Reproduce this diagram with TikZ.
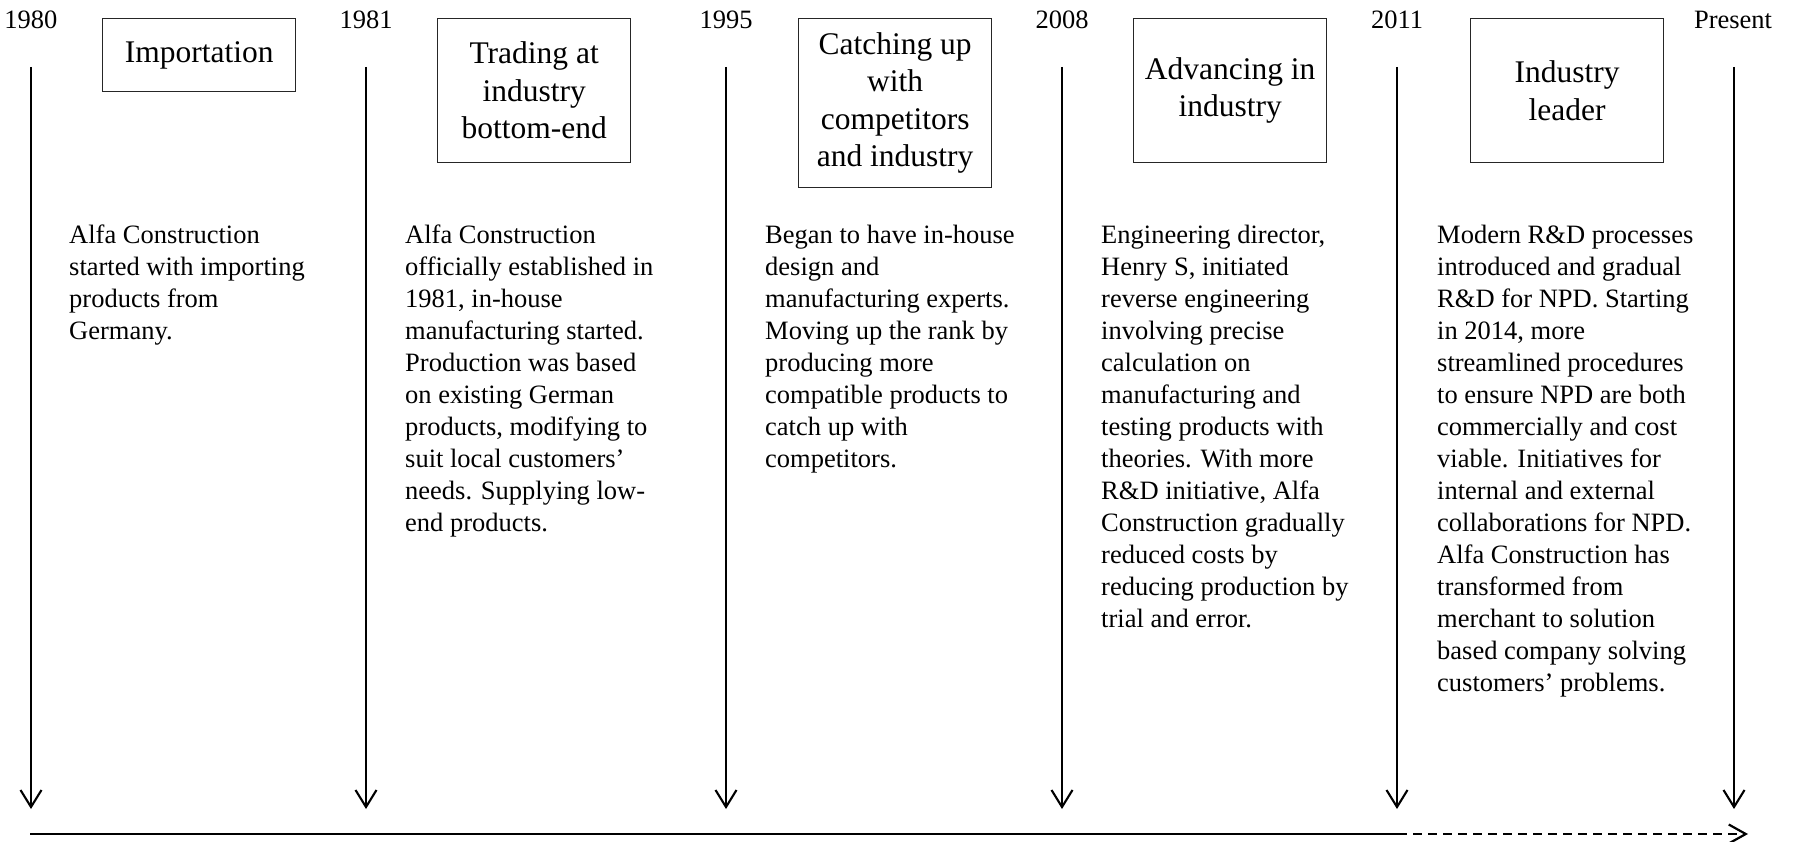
\documentclass[tikz,border=0pt]{standalone}
\usepackage{fontspec}
\setmainfont{Liberation Serif}
\usetikzlibrary{arrows.meta}

\tikzset{
  yearlbl/.style={anchor=base, inner sep=0pt, font=\fontsize{26.5}{32}\selectfont},
  stagebox/.style={draw=black!85, line width=1.3pt, anchor=north west, inner sep=0pt,
    minimum width=193pt, align=center, font=\fontsize{31.5}{37.5}\selectfont},
  bodytext/.style={anchor=north west, inner sep=0pt, align=left,
    font=\fontsize{26.5}{32}\selectfont},
  era/.style={line width=2.1pt, -{Straight Barb[length=17pt,width=21pt,line width=2.1pt]}},
  axis/.style={line width=2.4pt},
  axisdash/.style={line width=2.4pt, dash pattern=on 9pt off 6pt,
    -{Straight Barb[length=17pt,width=19pt,line width=2.2pt]}}
}

\begin{document}
\begin{tikzpicture}[x=1pt, y=-1pt]
\useasboundingbox (0,0) rectangle (1798,842);

% year labels
\node[yearlbl] (y1980) at (31,29) {1980};
\node[yearlbl] (y1981) at (366,29) {1981};
\node[yearlbl] (y1995) at (726,29) {1995};
\node[yearlbl] (y2008) at (1062,29) {2008};
\node[yearlbl] (y2011) at (1397,29) {2011};
\node[yearlbl] (ynow) at (1733,29) {Present};

% stage boxes
\node[stagebox, minimum height=73pt] (s1) at (102,18) {Importation};
\node[stagebox, minimum height=144pt] (s2) at (437,18) {Trading at\\industry\\bottom-end};
\node[stagebox, minimum height=169pt] (s3) at (798,18) {Catching up\\with\\competitors\\and industry};
\node[stagebox, minimum height=144pt] (s4) at (1133,18) {Advancing in\\industry};
\node[stagebox, minimum height=144pt] (s5) at (1470,18) {Industry\\leader};

% descriptions
\node[bodytext] (d1) at (69,225) {Alfa Construction\\started with importing\\products from\\Germany.};
\node[bodytext] (d2) at (405,225) {Alfa Construction\\officially established in\\1981, in-house\\manufacturing started.\\Production was based\\on existing German\\products, modifying to\\suit local customers’\\needs. Supplying low-\\end products.};
\node[bodytext] (d3) at (765,225) {Began to have in-house\\design and\\manufacturing experts.\\Moving up the rank by\\producing more\\compatible products to\\catch up with\\competitors.};
\node[bodytext] (d4) at (1101,225) {Engineering director,\\Henry S, initiated\\reverse engineering\\involving precise\\calculation on\\manufacturing and\\testing products with\\theories. With more\\R\&D initiative, Alfa\\Construction gradually\\reduced costs by\\reducing production by\\trial and error.};
\node[bodytext] (d5) at (1437,225) {Modern R\&D processes\\introduced and gradual\\R\&D for NPD. Starting\\in 2014, more\\streamlined procedures\\to ensure NPD are both\\commercially and cost\\viable. Initiatives for\\internal and external\\collaborations for NPD.\\Alfa Construction has\\transformed from\\merchant to solution\\based company solving\\customers’ problems.};

% period arrows
\foreach \n/\x in {1/31, 2/366, 3/726, 4/1062, 5/1397, 6/1734} {
  \coordinate (t\n) at (\x,67);
  \coordinate (b\n) at (\x,809);
  \draw[era] (t\n) -- (b\n);
}

% time axis
\coordinate (a0) at (30,834);
\coordinate (a1) at (1398,834);
\coordinate (a2) at (1748,834);
\draw[axis] (a0) -- (a1);
\draw[axisdash] (a1) -- (a2);
\end{tikzpicture}
\end{document}
